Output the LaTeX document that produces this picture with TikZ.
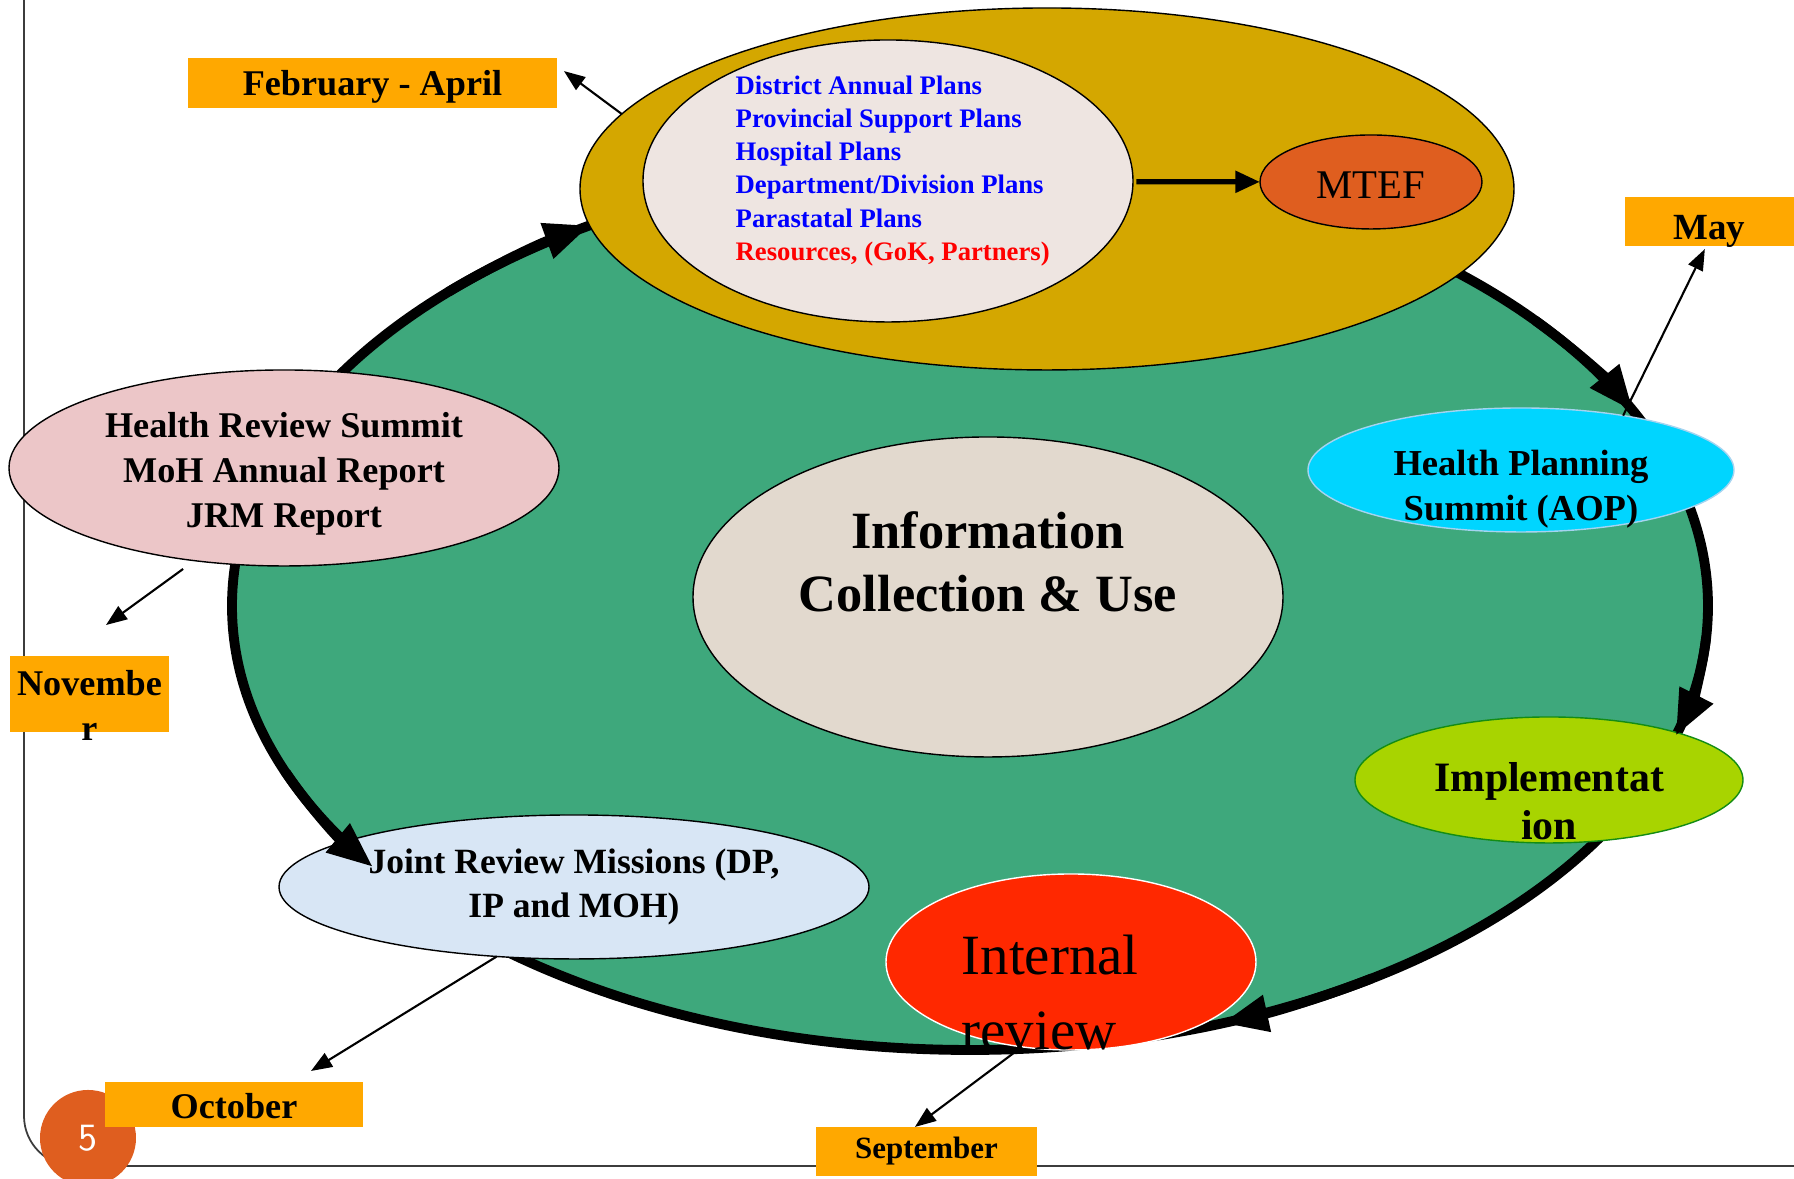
\documentclass[tikz,border=0pt]{standalone}
\usepackage{fontspec}
\setmainfont{Liberation Serif}
\usepackage{tkz-graph}
\usetikzlibrary{shapes.geometric, arrows.meta}

\definecolor{cyclegreen}{RGB}{62,168,124}
\definecolor{budgetgold}{RGB}{212,167,0}
\definecolor{planfill}{RGB}{238,229,225}
\definecolor{mtefred}{RGB}{223,94,31}
\definecolor{boxorange}{RGB}{255,168,0}
\definecolor{aopcyan}{RGB}{0,213,255}
\definecolor{aopedge}{RGB}{165,212,240}
\definecolor{implgreen}{RGB}{168,212,0}
\definecolor{impledge}{RGB}{20,140,20}
\definecolor{reviewpink}{RGB}{236,198,200}
\definecolor{infobeige}{RGB}{226,217,206}
\definecolor{jrmblue}{RGB}{216,230,245}
\definecolor{internalred}{RGB}{255,40,0}
\definecolor{planblue}{RGB}{0,0,255}
\definecolor{resred}{RGB}{255,0,0}
\definecolor{framegray}{RGB}{60,60,60}

\begin{document}
\begin{tikzpicture}[scale = 10]
\tikzstyle{VertexStyle} = []
\tikzstyle{EdgeStyle} = []
\tikzstyle{ellStyle}=[shape = ellipse, inner sep = 0pt, draw]
\tikzstyle{boxStyle}=[shape = rectangle, inner sep = 0pt, fill = boxorange, align = center, text depth = 0pt, font = \bfseries\fontsize{10.3}{12.8}\selectfont]
\tikzstyle{cycleStyle}=[fill = cyclegreen, draw = black, line width = 2.8pt]
\tikzstyle{turnStyle}=[line width = 2.8pt, -{Triangle[length = 13pt, width = 10pt]}]
\tikzstyle{mtefArrow}=[line width = 1.5pt, -{Triangle[length = 7pt, width = 6pt]}, shorten <= 1pt]
\tikzstyle{linkStyle}=[line width = 0.6pt, -{Triangle[length = 6pt, width = 4.5pt]}]
\tikzstyle{budgetStyle}=[ellStyle, fill = budgetgold, minimum width = 9.34cm, minimum height = 3.62cm]
\tikzstyle{planStyle}=[ellStyle, fill = planfill, minimum width = 4.90cm, minimum height = 2.82cm]
\tikzstyle{planText}=[inner sep = 0pt, align = left, text = planblue, font = \bfseries\fontsize{7.6}{9.45}\selectfont]
\tikzstyle{mtefStyle}=[ellStyle, fill = mtefred, minimum width = 2.22cm, minimum height = 0.94cm, text height = 9.5pt, text depth = 0pt, font = \fontsize{11.6}{13}\selectfont]
\tikzstyle{aopStyle}=[ellStyle, draw = aopedge, fill = aopcyan, minimum width = 4.26cm, minimum height = 1.24cm]
\tikzstyle{implStyle}=[ellStyle, draw = impledge, fill = implgreen, minimum width = 3.88cm, minimum height = 1.26cm]
\tikzstyle{summitStyle}=[ellStyle, fill = reviewpink, minimum width = 5.50cm, minimum height = 1.96cm]
\tikzstyle{infoStyle}=[ellStyle, fill = infobeige, minimum width = 5.90cm, minimum height = 3.20cm]
\tikzstyle{jrmStyle}=[ellStyle, fill = jrmblue, minimum width = 5.90cm, minimum height = 1.44cm, align = center, font = \bfseries\fontsize{10.1}{12.5}\selectfont]
\tikzstyle{internalStyle}=[ellStyle, draw = white, fill = internalred, minimum width = 3.70cm, minimum height = 1.76cm]
\tikzstyle{pageStyle}=[shape = circle, inner sep = 0pt, minimum size = 0.96cm, fill = mtefred, text = white, font = \sffamily\fontsize{11}{13}\selectfont]
\tikzstyle{labelStyle}=[inner sep = 0pt, align = center, font = \bfseries\fontsize{10.4}{12.8}\selectfont]
\tikzstyle{febStyle}=[boxStyle, minimum width = 3.69cm, minimum height = 0.50cm, text height = 7.4pt]
\tikzstyle{mayStyle}=[boxStyle, minimum width = 1.69cm, minimum height = 0.49cm, text height = 10.5pt, font = \bfseries\fontsize{10.5}{12.8}\selectfont]
\tikzstyle{novStyle}=[shape = rectangle, inner sep = 0pt, fill = boxorange, minimum width = 1.59cm, minimum height = 0.76cm]
\tikzstyle{octStyle}=[boxStyle, minimum width = 2.58cm, minimum height = 0.45cm, text height = 7.7pt]
\tikzstyle{sepStyle}=[boxStyle, minimum width = 2.21cm, minimum height = 0.49cm, text depth = 1.9pt, font = \bfseries\fontsize{8.8}{10}\selectfont]
\useasboundingbox (0,0) rectangle (1.794,1.179);
% slide frame and page number
\draw[framegray, line width = 0.5pt, rounded corners = 5mm] (0.024,1.190) |- (1.810,0.013);
\Vertex[style = pageStyle, x = 0.088, y = 0.041, L = {5}]{page}
% the cycle
\draw[cycleStyle] (0.970,0.573) ellipse [x radius = 0.738, y radius = 0.444];
% planning
\Vertex[style = budgetStyle, x = 1.047, y = 0.990, L = {\relax}]{budget}
\Vertex[style = planStyle, x = 0.888, y = 0.998, L = {\relax}]{plans}
\node[planText, anchor = north west] (planlist) at (0.735,1.104) {District Annual Plans\\Provincial Support Plans\\Hospital Plans\\Department/Division Plans\\Parastatal Plans\\\textcolor{resred}{Resources, (GoK, Partners)}};
\Vertex[style = mtefStyle, x = 1.371, y = 0.997, L = {MTEF}]{mtef}
\draw[mtefArrow] (plans) -- (mtef);
% stages
\Vertex[style = aopStyle, x = 1.521, y = 0.709, L = {\relax}]{aop}
\node[labelStyle] (aoptext) at (1.521,0.6895) {Health Planning\\Summit (AOP)};
\Vertex[style = implStyle, x = 1.549, y = 0.399, L = {\relax}]{impl}
\node[labelStyle, font = \bfseries\fontsize{11.9}{13.7}\selectfont] (impltext) at (1.549,0.3775) {Implementat\\ion};
\Vertex[style = summitStyle, x = 0.284, y = 0.711, L = {\relax}]{summit}
\node[labelStyle, font = \bfseries\fontsize{10.3}{12.8}\selectfont] (summittext) at (0.284,0.705) {Health Review Summit\\MoH Annual Report\\JRM Report};
\Vertex[style = infoStyle, x = 0.988, y = 0.582, L = {\relax}]{info}
\node[labelStyle, font = \bfseries\fontsize{14.9}{17.9}\selectfont] (infotext) at (0.988,0.617) {Information\\Collection \& Use};
\Vertex[style = jrmStyle, x = 0.574, y = 0.292, L = {Joint Review Missions (DP,\\IP and MOH)}]{jrm}
\Vertex[style = internalStyle, x = 1.071, y = 0.217, L = {\relax}]{internal}
% arrow heads on the cycle
\foreach \s/\e in {135/121, 40/26, -4/-17, -57/-70, 202/216}
  \draw[turnStyle] (0.970,0.573) ++(\s:0.738 and 0.444) arc [start angle = \s, end angle = \e, x radius = 0.738, y radius = 0.444];
\node[inner sep = 0pt, anchor = north west, align = left, font = \fontsize{16.2}{21.3}\selectfont] (internaltext) at (0.961,0.245) {Internal\\review};
% months
\Vertex[style = febStyle, x = 0.3725, y = 1.096, L = {February - April}]{febbox}
\Vertex[style = mayStyle, x = 1.7095, y = 0.9575, L = {May}]{maybox}
\Vertex[style = novStyle, x = 0.0895, y = 0.485, L = {\relax}]{novbox}
\node[labelStyle, font = \bfseries\fontsize{10.3}{12.8}\selectfont] (novtext) at (0.0895,0.474) {Novembe\\r};
\Vertex[style = octStyle, x = 0.234, y = 0.0745, L = {October}]{octbox}
\Vertex[style = sepStyle, x = 0.9265, y = 0.0275, L = {September}]{sepbox}
\coordinate (febtip) at (0.564,1.108);
\coordinate (maytip) at (1.705,0.930);
\coordinate (novtip) at (0.106,0.554);
\coordinate (octtip) at (0.311,0.108);
\coordinate (septip) at (0.915,0.052);
\draw[linkStyle] (budget.170) -- (febtip);
\draw[linkStyle] (aop.28) -- (maytip);
\draw[linkStyle, shorten <= 4pt] (summit.226) -- (novtip);
\draw[linkStyle] (jrm.222) -- (octtip);
\draw[linkStyle] (internal.240) -- (septip);
\end{tikzpicture}
\end{document}
